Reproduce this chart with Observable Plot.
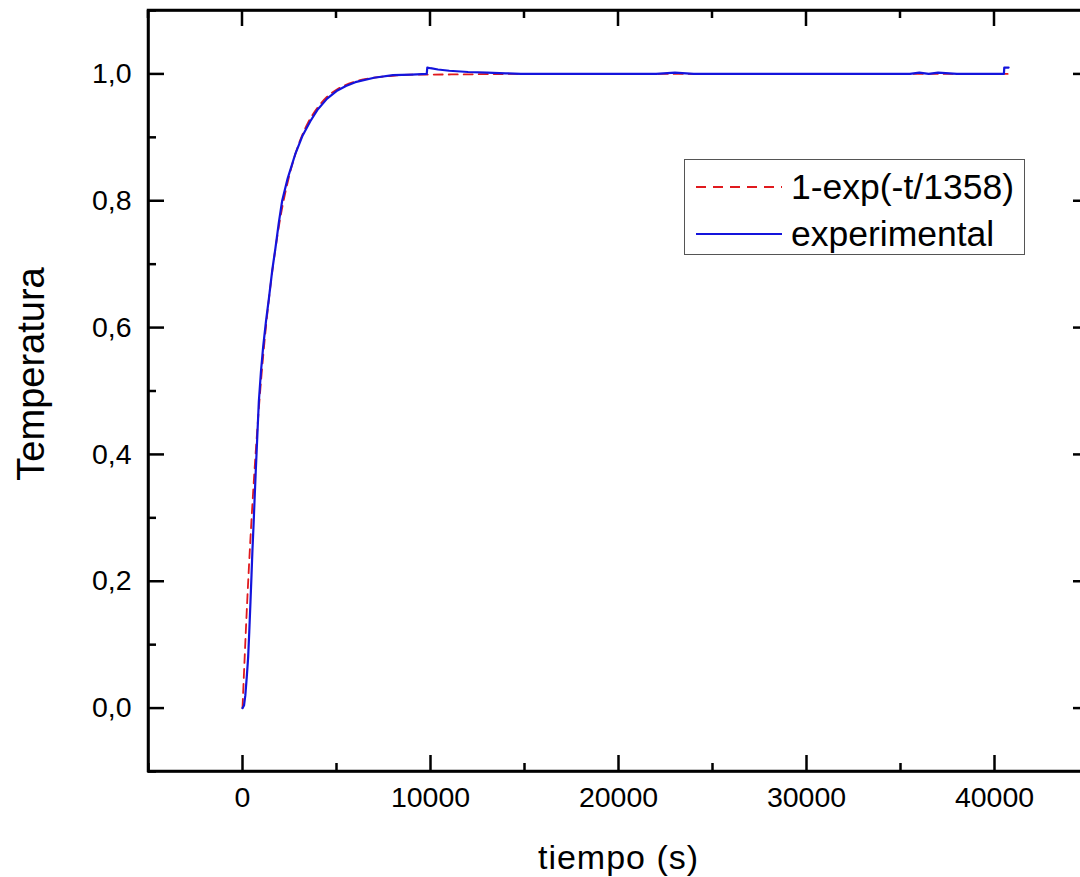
<!DOCTYPE html>
<html>
<head>
<meta charset="utf-8">
<script src="https://cdn.jsdelivr.net/npm/d3@7"></script>
<script src="https://cdn.jsdelivr.net/npm/@observablehq/plot@0.6"></script>
<style>
  html, body { margin: 0; padding: 0; background: #fff; overflow: hidden; }
  #wrap { position: relative; width: 1090px; height: 877px; }
  #wrap > svg { display: block; }
  #legend { position: absolute; left: 684px; top: 159px; width: 339px; height: 94px;
            border: 1.2px solid #555; background: #fff; font-family: "Liberation Sans", Arial, sans-serif; }
  #legend .row { position: absolute; left: 0; height: 40px; display: flex; align-items: center; }
  #legend svg { display: block; }
  #legend span { font-size: 35.5px; color: #000; margin-left: 9px; line-height: 40px; }
</style>
</head>
<body>
<div id="wrap"></div>
<script>
// ---- data ----
const fitLabel = "1-exp(-t/1358)";
const expLabel = "experimental";

const fitTime  = [0, 250, 500, 750, 1000, 1250, 1500, 1750, 2000, 2500, 3000, 3500, 4000, 4500, 5000, 6000, 7000, 8000, 9000, 10000, 15000, 20000, 30000, 40700];
const fitValue = [0, 0.168, 0.308, 0.424, 0.521, 0.602, 0.669, 0.724, 0.771, 0.841, 0.890, 0.924, 0.947, 0.964, 0.975, 0.988, 0.994, 0.997, 0.999, 0.999, 1.0, 1.0, 1.0, 1.0];

const expTime  = [0, 80, 150, 230, 300, 360, 425, 480, 530, 590, 638, 700, 760, 868, 980, 1100, 1250, 1400, 1580, 1750, 1930, 2110, 2400, 2800, 3200, 3600, 4000, 4500, 5000, 5500, 6000, 7000, 8000, 9000, 9800, 9830, 10000, 10400, 11000, 12000, 13000, 14000, 14800, 18000, 22000, 23000, 24000, 28000, 32000, 35500, 36000, 36500, 37000, 38000, 40500, 40520, 40750];
const expValue = [0, 0.004, 0.02, 0.05, 0.08, 0.12, 0.168, 0.21, 0.25, 0.29, 0.326, 0.37, 0.41, 0.483, 0.53, 0.57, 0.61, 0.645, 0.69, 0.725, 0.765, 0.80, 0.835, 0.873, 0.903, 0.925, 0.944, 0.961, 0.973, 0.981, 0.987, 0.994, 0.998, 0.999, 1.0, 1.010, 1.009, 1.007, 1.005, 1.003, 1.002, 1.001, 1.0, 1.0, 1.0, 1.002, 1.0, 1.0, 1.0, 1.0, 1.002, 1.0, 1.002, 1.0, 1.0, 1.01, 1.01];

const xMajor = [0, 10000, 20000, 30000, 40000];
const xMinor = [-5000, 5000, 15000, 25000, 35000, 45000];
const yMajor = [0, 0.2, 0.4, 0.6, 0.8, 1.0];
const yMinor = [-0.1, 0.1, 0.3, 0.5, 0.7, 0.9, 1.1];
const xDomain = [-5000, 45000];
const yDomain = [-0.1, 1.1];

const xTitle = "tiempo (s)";
const yTitle = "Temperatura";

// ---- build ----
const fit = fitTime.map((t, i) => ({t, v: fitValue[i]}));
const exp = expTime.map((t, i) => ({t, v: expValue[i]}));
const fmt = d => d3.format(".1f")(d).replace(".", ",");

const FONT = "Liberation Sans, Arial, sans-serif";
const RED = "#e01a1e";
const BLUE = "#1414dc";

const chart = Plot.plot({
  width: 1090,
  height: 877,
  marginLeft: 148,
  marginRight: 2,
  marginTop: 10,
  marginBottom: 106,
  style: {fontFamily: FONT, background: "#fff", color: "#000", overflow: "visible"},
  x: {domain: xDomain},
  y: {domain: yDomain},
  marks: [
    Plot.frame({stroke: "#000", strokeWidth: 2.5}),
    // series
    Plot.line(fit, {x: "t", y: "v", stroke: RED, strokeWidth: 1.8, strokeDasharray: "9,6", curve: "monotone-x"}),
    Plot.line(exp, {x: "t", y: "v", stroke: BLUE, strokeWidth: 2.2, curve: "linear"}),
    // bottom axis: labels + inward ticks
    Plot.axisX({anchor: "bottom", ticks: xMajor, tickSize: 0, tickPadding: 15, tickFormat: d => String(d), fontSize: 28.5, label: null}),
    Plot.axisX({anchor: "bottom", ticks: xMajor, tickSize: -16, text: null, label: null, strokeWidth: 2.5}),
    Plot.axisX({anchor: "bottom", ticks: xMinor, tickSize: -8, text: null, label: null, strokeWidth: 2.5}),
    // left axis
    Plot.axisY({anchor: "left", ticks: yMajor, tickSize: 0, tickPadding: 17, tickFormat: fmt, fontSize: 28.5, label: null}),
    Plot.axisY({anchor: "left", ticks: yMajor, tickSize: -16, text: null, label: null, strokeWidth: 2.5}),
    Plot.axisY({anchor: "left", ticks: yMinor, tickSize: -8, text: null, label: null, strokeWidth: 2.5}),
    // right axis
    Plot.axisY({anchor: "right", ticks: yMajor, tickSize: -16, text: null, label: null, strokeWidth: 2.5}),
    Plot.axisY({anchor: "right", ticks: yMinor, tickSize: -8, text: null, label: null, strokeWidth: 2.5}),
    // titles
    Plot.text([xTitle], {frameAnchor: "bottom", dy: 87, text: d => d, fontSize: 34, fill: "#000", lineAnchor: "middle", textAnchor: "middle", className: "xtitle"}),
    Plot.text([yTitle], {frameAnchor: "left", dx: -117, dy: -17, rotate: -90, text: d => d, fontSize: 38, fill: "#000", lineAnchor: "middle", textAnchor: "middle"})
  ]
});
d3.select(chart).selectAll(".xtitle text").attr("letter-spacing", "1px");

// frame edges and top ticks re-drawn on top, through the chart's own scales
const sx = chart.scale("x"), sy = chart.scale("y");
const fx0 = sx.apply(xDomain[0]), fx1 = sx.apply(xDomain[1]);
const fy0 = sy.apply(yDomain[0]), fy1 = sy.apply(yDomain[1]);
const edgeG = d3.select(chart).append("g").attr("stroke", "#000").attr("stroke-width", 2.5).attr("fill", "none");
edgeG.append("rect").attr("x", fx0).attr("y", fy1).attr("width", fx1 - fx0).attr("height", fy0 - fy1);
xMajor.forEach(v => edgeG.append("line").attr("x1", sx.apply(v)).attr("x2", sx.apply(v)).attr("y1", fy1).attr("y2", fy1 + 16));
xMinor.forEach(v => edgeG.append("line").attr("x1", sx.apply(v)).attr("x2", sx.apply(v)).attr("y1", fy1).attr("y2", fy1 + 8));
document.getElementById("wrap").appendChild(chart);

// ---- legend (HTML box) ----
const legendItems = [
  {label: fitLabel, color: RED, dash: "10,7", width: 1.8},
  {label: expLabel, color: BLUE, dash: null, width: 2.2}
];
const lg = d3.select("#wrap").append("div").attr("id", "legend");
legendItems.forEach((it, i) => {
  const row = lg.append("div").attr("class", "row").style("top", (7 + i * 47) + "px");
  const s = row.append("svg").attr("width", 97).attr("height", 10);
  s.append("line").attr("x1", 11).attr("x2", 97).attr("y1", 5).attr("y2", 5)
    .attr("stroke", it.color).attr("stroke-width", it.width)
    .attr("stroke-dasharray", it.dash);
  row.append("span").text(it.label);
});
</script>
</body>
</html>
